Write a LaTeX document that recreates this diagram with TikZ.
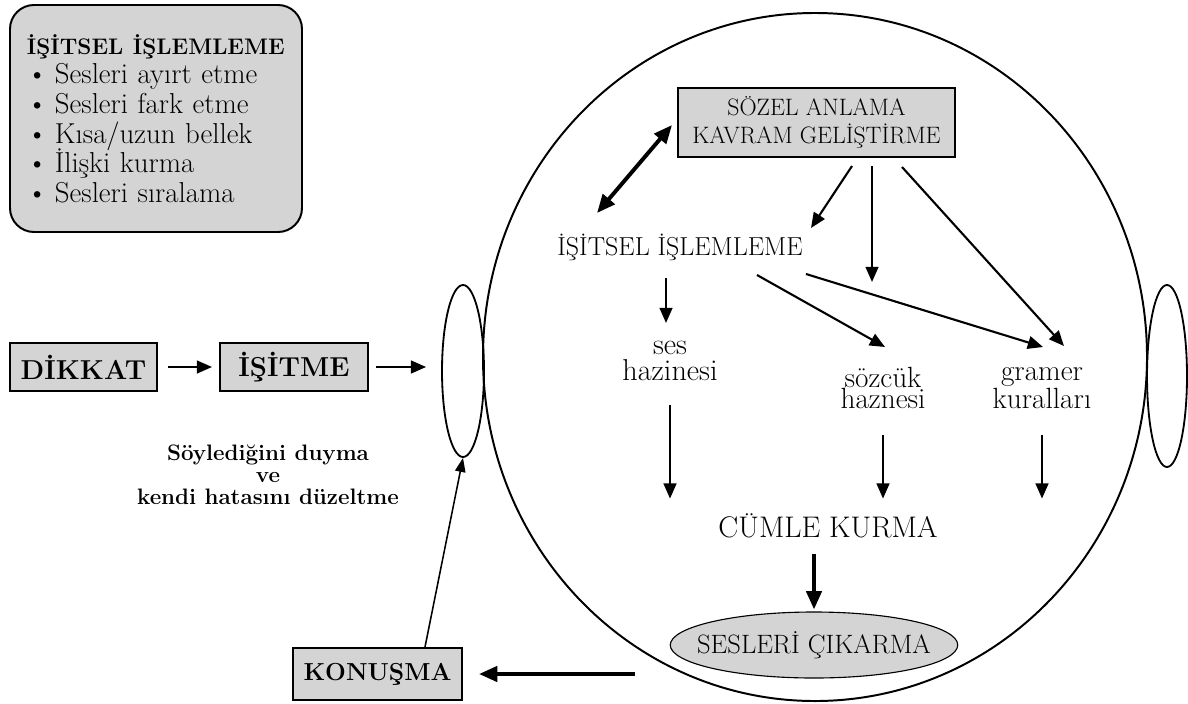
\documentclass[tikz,border=0pt]{standalone}
\usepackage{tikz}
\usetikzlibrary{arrows.meta,shapes.geometric}
\newcommand{\madde}{\makebox[7mm][l]{\textbullet}}

\begin{document}
\begin{tikzpicture}[x=0.25mm, y=-0.25mm,
  kutu/.style={draw, line width=1.4pt, fill=black!17, inner sep=0pt, align=center},
  baslik/.style={kutu, font=\bfseries\fontsize{19.5}{22}\selectfont, minimum height=12mm},
  yazi/.style={align=center, inner sep=0pt},
  kulak/.style={draw, ellipse, line width=1.3pt, inner sep=0pt},
  ok/.style={-{Triangle[length=3.8mm,width=3.2mm]}, line width=1.5pt},
  kalinok/.style={-{Triangle[length=4.6mm,width=3.8mm]}, line width=2.8pt},
  ciftok/.style={{Triangle[length=4.6mm,width=3.8mm]}-{Triangle[length=4.6mm,width=3.8mm]}, line width=2.8pt}]
\useasboundingbox (0,0) rectangle (1188,703);
% Kafa ve kulaklar
\node[kulak, line width=1.4pt, minimum width=166mm, minimum height=172mm] (kafa) at (815,357) {};
\node[kulak, minimum width=10.5mm, minimum height=43mm] (solkulak) at (463,371) {};
\node[kulak, minimum width=10mm, minimum height=45.5mm] (sagkulak) at (1167,376) {};
% Liste
\node[kutu, rounded corners=6mm, align=left, text width=64.5mm, inner xsep=4.25mm, minimum height=56.75mm, font=\fontsize{20.5}{21.1}\selectfont] (liste) at (156,118.5) {\lineskiplimit=-10pt\mbox{\bfseries\fontsize{16}{21}\selectfont İŞİTSEL İŞLEMLEME}\\
\madde Sesleri ayırt etme\\ \madde Sesleri fark etme\\ \madde Kısa/uzun bellek\\ \madde İlişki kurma\\ \madde Sesleri sıralama};
% Kutular
\node[baslik, minimum width=36.75mm] (dikkat) at (83.5,367) {DİKKAT};
\node[baslik, minimum width=37mm] (isitme) at (294,367) {İŞİTME};
\node[baslik, minimum width=42.25mm, minimum height=13mm, font=\bfseries\fontsize{17.5}{20}\selectfont] (konusma) at (377.5,674) {KONUŞMA};
\node[kutu, font=\fontsize{16.9}{19.5}\selectfont, minimum width=69.25mm, minimum height=17.25mm] (sozel) at (816.5,122.5) {SÖZEL ANLAMA\\KAVRAM GELİŞTİRME};
\node[kutu, ellipse, line width=0.8pt, font=\fontsize{18.9}{20}\selectfont, inner xsep=-3.8mm, minimum width=71mm, minimum height=16.5mm] (cikar) at (814,645) {SESLERİ ÇIKARMA};
% Yazılar
\node[yazi, font=\bfseries\fontsize{15.9}{15.6}\selectfont] (duyma) at (268,475) {Söylediğini duyma\\ve\\kendi hatasını düzeltme};
\node[yazi, font=\fontsize{18.5}{20}\selectfont] (islemleme) at (680,247) {İŞİTSEL İŞLEMLEME};
\node[yazi, font=\fontsize{21.5}{18}\selectfont] (ses) at (670,361) {ses\\hazinesi};
\node[yazi, font=\fontsize{20.8}{15.5}\selectfont] (sozcuk) at (883,388) {sözcük\\haznesi};
\node[yazi, font=\fontsize{20.8}{15.5}\selectfont] (gramer) at (1042,388) {gramer\\kuralları};
\node[yazi, font=\fontsize{21.2}{22}\selectfont] (cumle) at (828,526) {CÜMLE KURMA};
% Ok uçları
\coordinate (s1) at (852,166);
\coordinate (u1) at (811,228);
\coordinate (s2) at (872,166);
\coordinate (u2) at (872,282);
\coordinate (s3) at (902,167);
\coordinate (u3) at (1064,346);
\coordinate (i1) at (666,278);
\coordinate (u4) at (666,323);
\coordinate (i2) at (757,275);
\coordinate (u5) at (885,347);
\coordinate (i3) at (806,274);
\coordinate (u6) at (1043,347);
\coordinate (d1) at (597,213);
\coordinate (d2) at (672,125);
\coordinate (k1) at (425,647);
\coordinate (c1) at (635,674);
% Soldaki oklar
\draw[ok, shorten <=2.5mm, shorten >=1.75mm] (dikkat) -- (isitme);
\draw[ok, shorten <=1.75mm, shorten >=3.75mm] (isitme) -- (isitme -| solkulak.west);
\draw[-{Triangle[length=3.5mm,width=2.6mm]}, line width=1.1pt] (k1) -- (solkulak.south);
\draw[kalinok, shorten >=4mm] (c1) -- (konusma);
% Kafanın içindeki oklar
\draw[ciftok] (d1) -- (d2);
\draw[ok] (s1) -- (u1);
\draw[ok] (s2) -- (u2);
\draw[ok] (s3) -- (u3);
\draw[ok] (i1) -- (u4);
\draw[ok] (i2) -- (u5);
\draw[ok] (i3) -- (u6);
\draw[ok, shorten <=6mm, shorten >=3.75mm] (ses) -- (ses |- cumle.north);
\draw[ok, shorten <=6.5mm, shorten >=3.75mm] (sozcuk) -- (sozcuk |- cumle.north);
\draw[ok, shorten <=6.5mm, shorten >=3.75mm] (gramer) -- (gramer |- cumle.north);
\draw[kalinok, shorten <=4mm, shorten >=0.5mm] (cikar |- cumle.south) -- (cikar.north);
\end{tikzpicture}
\end{document}
